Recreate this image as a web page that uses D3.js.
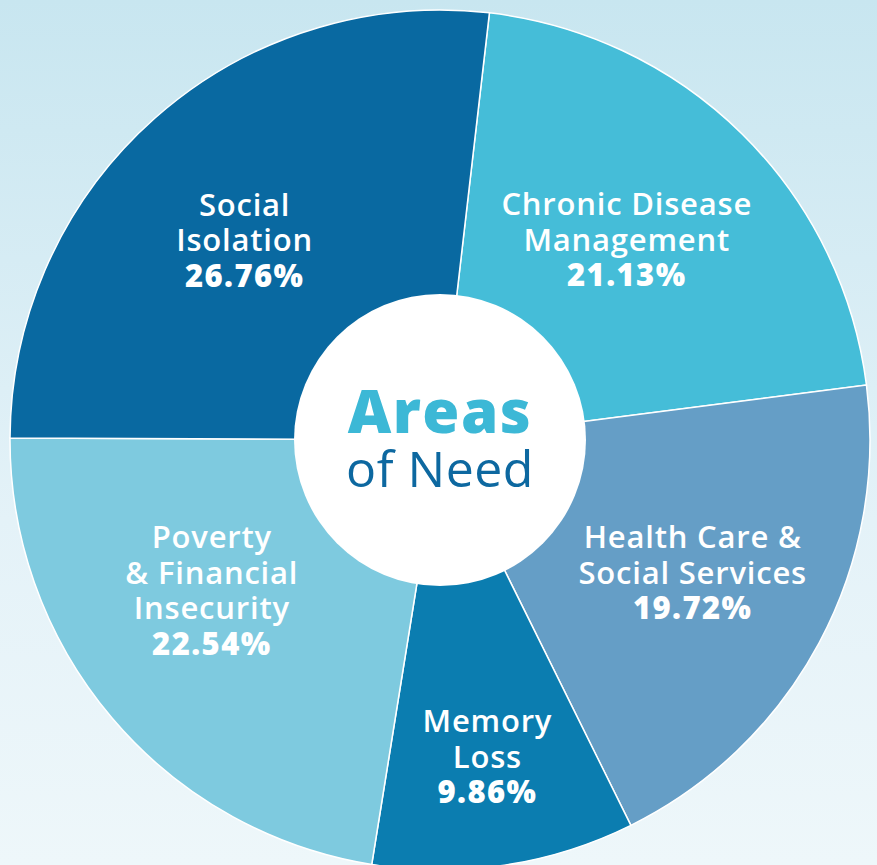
<!DOCTYPE html>
<html>
<head>
<meta charset="utf-8">
<script src="https://cdn.jsdelivr.net/npm/d3@7"></script>
<style>
  html, body { margin: 0; padding: 0; }
  body { width: 877px; height: 865px; overflow: hidden;
         background: linear-gradient(to bottom, #c8e6f0 0%, #e4f2f8 60%, #eef7fa 100%); }
  text { font-family: "Open Sans", Lato, sans-serif; }
</style>
</head>
<body>
<div id="chart"></div>
<script>
const categories = ["Chronic Disease|Management", "Health Care &|Social Services", "Memory|Loss",
                    "Poverty|& Financial|Insecurity", "Social|Isolation"];
const percents = [21.13, 19.72, 9.86, 22.54, 26.76];
const colors = ["#45bdd8", "#659ec6", "#0b7db0", "#7ecadf", "#0969a1"];

const width = 877, height = 865;
const cx = 440, cy = 440, radius = 430, hole = 146;

const svg = d3.select("#chart").append("svg")
    .attr("width", width)
    .attr("height", height);

const data = categories.map(function(c, i) {
    return { name: c, value: percents[i], color: colors[i] };
});

const startAngle = 6.6 * Math.PI / 180;
const pie = d3.pie()
    .sort(null)
    .value(function(d) { return d.value; })
    .startAngle(startAngle)
    .endAngle(startAngle + 2 * Math.PI);

const arc = d3.arc().innerRadius(0).outerRadius(radius);
const labelArc = d3.arc().innerRadius(290).outerRadius(290);

const g = svg.append("g").attr("transform", "translate(" + cx + "," + cy + ")");

const arcs = pie(data);

g.selectAll("path.slice")
    .data(arcs)
    .enter().append("path")
    .attr("class", "slice")
    .attr("d", arc)
    .attr("fill", function(d) { return d.data.color; })
    .attr("stroke", "#ffffff")
    .attr("stroke-width", 1.5);

// small nudges so the labels sit where the original has them
const nudges = [[-17, 6], [-3, -4], [4, 30], [-7, -37], [-3, 17]];
const lh = 35.5;

// one text per label, lines as tspans
g.selectAll("text.label")
    .data(arcs)
    .enter().append("text")
    .attr("class", "label")
    .attr("text-anchor", "middle")
    .attr("fill", "#ffffff")
    .attr("font-size", 31)
    .attr("transform", function(d, i) {
        const c = labelArc.centroid(d);
        return "translate(" + (c[0] + nudges[i][0]) + "," + (c[1] + nudges[i][1]) + ")";
    })
    .each(function(d) {
        const lines = d.data.name.split("|");
        const top = -lines.length * lh / 2;
        const sel = d3.select(this);
        lines.forEach(function(l, j) {
            sel.append("tspan")
                .attr("x", 0)
                .attr("y", top + j * lh + 11)
                .attr("font-weight", 600)
                .attr("letter-spacing", 0.8)
                .text(l);
        });
        sel.append("tspan")
            .attr("x", 0)
            .attr("y", top + lines.length * lh + 11)
            .attr("font-weight", 800)
            .attr("letter-spacing", 1.4)
            .text(d3.format(".2f")(d.data.value) + "%");
    });

g.append("circle")
    .attr("r", hole)
    .attr("fill", "#ffffff");

const title = g.append("text")
    .attr("text-anchor", "middle");

title.append("tspan")
    .attr("x", 0)
    .attr("y", -7)
    .attr("fill", "#3cb8d6")
    .attr("font-size", 60)
    .attr("font-weight", 800)
    .attr("letter-spacing", 1.5)
    .text("Areas");

title.append("tspan")
    .attr("x", 0)
    .attr("y", 46.5)
    .attr("fill", "#0d68a0")
    .attr("font-size", 50)
    .attr("font-weight", 400)
    .attr("letter-spacing", 0.5)
    .text("of Need");
</script>
</body>
</html>
